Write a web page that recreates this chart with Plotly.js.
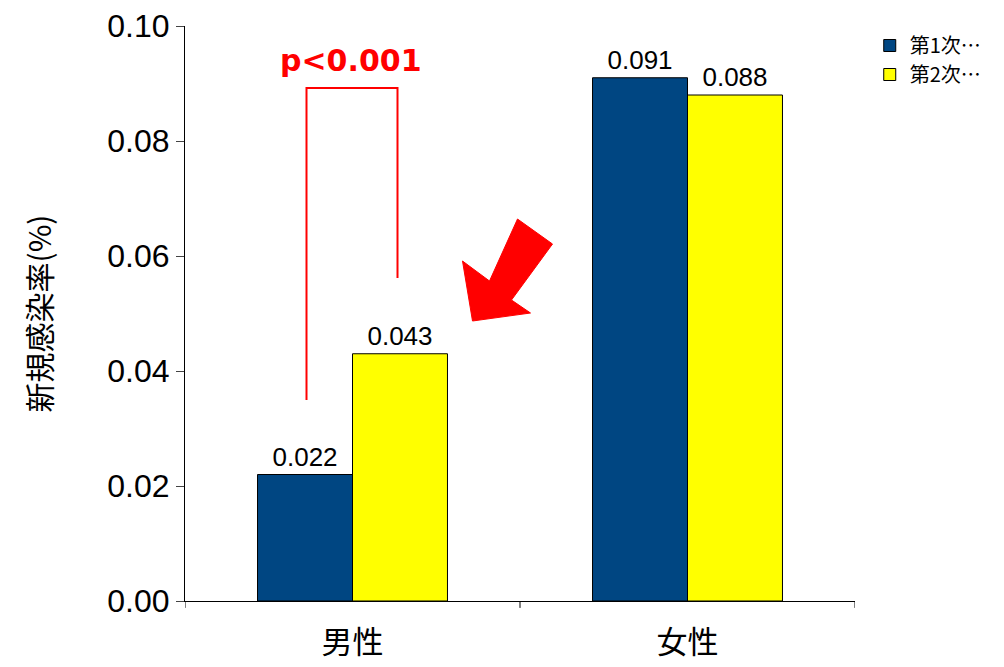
<!DOCTYPE html>
<html><head><meta charset="utf-8">
<script src="https://cdn.plot.ly/plotly-3.0.1.min.js"></script>
<style>body{margin:0}</style></head><body>
<div id="c" style="width:1004px;height:667px"></div>
<script>
const categories = ['男性','女性'];
const series1 = [0.022,0.091];
const series2 = [0.043,0.088];
const names = ['第1次…','第2次…'];
const yTicks = [0,0.02,0.04,0.06,0.08,0.10];
const yTickText = ['0.00','0.02','0.04','0.06','0.08','0.10'];
const px = (x)=>(x-352)/335, py=(y)=>(601-y)/5750;
const bracket = [[306,400],[306,88],[397,88],[397,278]];
const arrow = [[472,321],[462,261],[489,281],[517,219],[552,244],[511,300],[530,313]];
const toPath = (pts,close)=>pts.map((p,i)=>(i?'L':'M')+px(p[0])+','+py(p[1])).join(' ')+(close?' Z':'');
const font = "'Liberation Sans', Arial, sans-serif";
const cjk = "'Noto Sans CJK JP', sans-serif";
const mk=(vals,name,color)=>({type:'bar',x:[0,1],y:vals,name:name,
  marker:{color:color,line:{color:'#000',width:1}},
  text:vals.map(v=>v.toFixed(3)),textposition:'outside',cliponaxis:false,
  textfont:{size:26,color:'#000',family:font}});
Plotly.newPlot('c',[mk(series1,names[0],'#004682'),mk(series2,names[1],'#ffff00')],{
  width:1004,height:667,margin:{l:185,r:149,t:26,b:66},
  barmode:'group',bargap:0.433,bargroupgap:0,
  paper_bgcolor:'#fff',plot_bgcolor:'#fff',font:{family:font,color:'#000'},
  xaxis:{tickvals:[0,1],ticktext:categories,range:[-0.5,1.5],showline:true,linecolor:'#000',
    ticks:'',tickfont:{size:31,family:cjk},ticklabelstandoff:14,showgrid:false,zeroline:false},
  yaxis:{range:[0,0.1],tickvals:yTicks,ticktext:yTickText,showline:true,linecolor:'#000',ticks:'outside',
    ticklen:8,tickfont:{size:32},showgrid:false,zeroline:false,
    title:{text:'新規感染率(%)',font:{size:30,family:cjk},standoff:46}},
  legend:{x:1.022,y:1.0,xanchor:'left',yanchor:'top',font:{size:20,family:cjk},
    tracegroupgap:2,itemwidth:20},
  shapes:[
    {type:'path',path:toPath(bracket,false),line:{color:'#ff0000',width:2},xref:'x',yref:'y'},
    {type:'path',path:toPath(arrow,true),fillcolor:'#ff0000',line:{color:'#ff0000',width:1},xref:'x',yref:'y'},
    {type:'line',xref:'x',yref:'paper',x0:0.5,x1:0.5,y0:0,y1:-0.012,line:{color:'#000',width:1}},
    {type:'line',xref:'x',yref:'paper',x0:-0.5,x1:-0.5,y0:0,y1:-0.012,line:{color:'#000',width:1}},
    {type:'line',xref:'x',yref:'paper',x0:1.5,x1:1.5,y0:0,y1:-0.012,line:{color:'#000',width:1}}
  ],
  annotations:[{x:px(350),y:py(60),xref:'x',yref:'y',text:'<b>p<0.001</b>',showarrow:false,
    font:{size:30,color:'#ff0000',family:"'DejaVu Sans', sans-serif"}}]
},{displayModeBar:false});
</script></body></html>
